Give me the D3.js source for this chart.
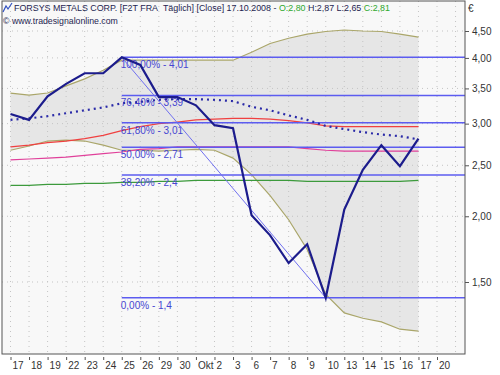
<!DOCTYPE html>
<html>
<head>
<meta charset="utf-8">
<script src="https://cdn.jsdelivr.net/npm/d3@7"></script>
<style>
  body { margin: 0; background: #fff; }
  text { font-family: "Liberation Sans", Arial, sans-serif; }
</style>
</head>
<body>
<div id="chart"></div>
<script>
// daily labels (Sept 17 .. Oct 20, 2008)
const days = ["17","18","19","22","23","24","25","26","29","30","Okt","2","3",
              "6","7","8","9","10","13","14","15","16","17","20"];

// close prices
const close = [3.13, 3.05, 3.38, 3.57, 3.74, 3.74, 4.01, 3.88, 3.37, 3.37, 3.25, 2.98,
               2.94, 2.01, 1.84, 1.63, 1.77, 1.40, 2.06, 2.45, 2.73, 2.49, 2.81];

// bollinger bands
const bandUpper = [3.43, 3.40, 3.43, 3.54, 3.65, 3.79, 3.96, 3.96, 3.96, 3.96, 3.96, 3.96,
                   3.96, 4.10, 4.26, 4.36, 4.44, 4.49, 4.52, 4.50, 4.49, 4.44, 4.38];
const bandMid   = [3.05, 3.07, 3.10, 3.14, 3.18, 3.22, 3.28, 3.30, 3.33, 3.34, 3.34, 3.33,
                   3.31, 3.23, 3.18, 3.11, 3.05, 2.97, 2.93, 2.89, 2.86, 2.84, 2.80];
const bandLower = [2.67, 2.72, 2.78, 2.79, 2.78, 2.73, 2.67, 2.67, 2.66, 2.67, 2.68, 2.67,
                   2.58, 2.40, 2.19, 1.97, 1.73, 1.42, 1.31, 1.28, 1.26, 1.22, 1.21];

// moving averages
const maRed   = [2.71, 2.73, 2.76, 2.78, 2.81, 2.85, 2.91, 2.96, 3.00, 3.02, 3.05, 3.06,
                 3.07, 3.07, 3.06, 3.04, 3.01, 2.97, 2.96, 2.96, 2.96, 2.96, 2.96];
const maPink  = [2.56, 2.57, 2.58, 2.59, 2.61, 2.63, 2.65, 2.68, 2.69, 2.71, 2.71, 2.71,
                 2.71, 2.71, 2.71, 2.71, 2.69, 2.67, 2.66, 2.66, 2.66, 2.66, 2.66];
const maGreen = [2.29, 2.29, 2.30, 2.30, 2.31, 2.31, 2.32, 2.32, 2.33, 2.33, 2.34, 2.34,
                 2.34, 2.34, 2.34, 2.34, 2.33, 2.33, 2.33, 2.33, 2.33, 2.33, 2.34];

// fibonacci retracement
const fibHigh = { i: 6, v: 4.01 };
const fibLow = { i: 17, v: 1.40 };
const fibLevels = [1, 0.764, 0.618, 0.5, 0.382, 0];
const fibLabels = ["100,00% - 4,01", "76,40% - 3,39", "61,80% - 3,01",
                   "50,00% - 2,71", "38,20% - 2,4", "0,00% - 1,4"];

const yTicks = [4.5, 4.0, 3.5, 3.0, 2.5, 2.0, 1.5];

const W = 500, H = 375;
const plot = { left: 2, top: 1, right: 465, bottom: 354 };

const svg = d3.select("#chart").append("svg")
    .attr("width", W).attr("height", H);

const x = d3.scaleLinear().domain([0, days.length - 1]).range([10.5, 437]);
const y = d3.scaleLog().domain([1.5, 4.5]).range([282, 31]);

// plot background
svg.append("rect")
    .attr("x", plot.left).attr("y", plot.top)
    .attr("width", plot.right - plot.left).attr("height", plot.bottom - plot.top)
    .attr("fill", "#f8f8f8");

const g = svg.append("g");

// band fill
g.append("path")
    .datum(d3.range(close.length))
    .attr("fill", "#e6e6e6")
    .attr("d", d3.area().x(i => x(i)).y0(i => y(bandLower[i])).y1(i => y(bandUpper[i])));

// grid
g.selectAll(".vg").data(d3.range(days.length + 1)).enter().append("line")
    .attr("x1", i => x(i)).attr("x2", i => x(i))
    .attr("y1", plot.top).attr("y2", plot.bottom)
    .attr("stroke", "#c4c4c4").attr("stroke-dasharray", "1,4");
g.selectAll(".hg").data(yTicks).enter().append("line")
    .attr("x1", plot.left).attr("x2", plot.right)
    .attr("y1", d => y(d)).attr("y2", d => y(d))
    .attr("stroke", "#c4c4c4").attr("stroke-dasharray", "1,4");

const line = arr => d3.line().x((d, i) => x(i)).y(d => y(d))(arr);

// bands
g.append("path").attr("d", line(bandUpper)).attr("fill", "none").attr("stroke", "#aaa66a").attr("stroke-width", 1.2);
g.append("path").attr("d", line(bandLower)).attr("fill", "none").attr("stroke", "#aaa66a").attr("stroke-width", 1.2);

// moving averages
g.append("path").attr("d", line(maGreen)).attr("fill", "none").attr("stroke", "#3c9a3c").attr("stroke-width", 1.2);
g.append("path").attr("d", line(maPink)).attr("fill", "none").attr("stroke", "#e0409a").attr("stroke-width", 1.2);
g.append("path").attr("d", line(maRed)).attr("fill", "none").attr("stroke", "#f04040").attr("stroke-width", 1.2);

// fibonacci lines and labels
const fibVal = l => fibLow.v + (fibHigh.v - fibLow.v) * l;
fibLevels.forEach((l, k) => {
  const yy = y(fibVal(l));
  g.append("line")
      .attr("x1", x(fibHigh.i)).attr("x2", plot.right)
      .attr("y1", yy).attr("y2", yy)
      .attr("stroke", "#5c5cf0").attr("stroke-width", 1.5);
  g.append("text")
      .attr("x", x(fibHigh.i) - 1).attr("y", yy + 11)
      .attr("font-size", 10).attr("fill", "#4646d2")
      .text(fibLabels[k]);
});

// trend line from high to low
g.append("line")
    .attr("x1", x(fibHigh.i)).attr("y1", y(fibHigh.v))
    .attr("x2", x(fibLow.i)).attr("y2", y(fibLow.v))
    .attr("stroke", "#7070f0").attr("stroke-width", 1);

// middle band dotted
g.append("path").attr("d", line(bandMid)).attr("fill", "none")
    .attr("stroke", "#2a2aa8").attr("stroke-width", 2.2).attr("stroke-dasharray", "2,4");

// close
g.append("path").attr("d", line(close)).attr("fill", "none")
    .attr("stroke", "#1c1c8c").attr("stroke-width", 2.2).attr("stroke-linejoin", "miter");

// frame
svg.append("rect")
    .attr("x", plot.left).attr("y", plot.top)
    .attr("width", plot.right - plot.left).attr("height", plot.bottom - plot.top)
    .attr("fill", "none").attr("stroke", "#555").attr("stroke-width", 1);

// right axis
const yAxis = svg.append("g")
    .attr("transform", `translate(${plot.right},0)`)
    .call(d3.axisRight(y).tickValues(yTicks).tickSize(4)
        .tickFormat(d => d3.format(".2f")(d).replace(".", ",")));
yAxis.select(".domain").remove();
yAxis.selectAll("text").attr("font-size", 10).attr("fill", "#333").attr("font-family", "Liberation Sans");
yAxis.selectAll("line").attr("stroke", "#555");

svg.append("text").attr("x", 468).attr("y", 12).attr("font-size", 10).attr("fill", "#333").text("€");

// bottom axis
const xAxis = svg.append("g")
    .attr("transform", `translate(0,${plot.bottom + 3})`)
    .call(d3.axisBottom(x).tickValues(d3.range(days.length)).tickSize(3)
        .tickFormat(i => days[i]));
xAxis.select(".domain").remove();
xAxis.selectAll("line").attr("stroke", "#555");
xAxis.selectAll("text")
    .attr("text-anchor", "start").attr("dx", 1.5).attr("y", 5)
    .attr("font-size", 10).attr("fill", "#333").attr("font-family", "Liberation Sans");

// title - shrink font to fit the reference width
function fitText(sel, width) {
  const len = sel.node().getComputedTextLength();
  const fs = +sel.attr("font-size");
  sel.attr("font-size", (fs * width / len).toFixed(2));
}
svg.append("path")
    .attr("d", "M3,12 L6,6 L8,9 L12,3")
    .attr("fill", "none").attr("stroke", "#3050c0").attr("stroke-width", 1.2);
const title = svg.append("text").attr("x", 14).attr("y", 11).attr("font-size", 10).attr("fill", "#1e1e50");
title.append("tspan").text("FORSYS METALS CORP. [F2T FRA\u00a0\u00a0Täglich] [Close] 17.10.2008 - ");
title.append("tspan").attr("fill", "#2ea82e").text("O:2,80");
title.append("tspan").text(" H:2,87 L:2,65 ");
title.append("tspan").attr("fill", "#2ea82e").text("C:2,81");
fitText(title, 376);
const credit = svg.append("text").attr("x", 3).attr("y", 24).attr("font-size", 10).attr("fill", "#1e1e50")
    .text("© www.tradesignalonline.com");
fitText(credit, 115);
</script>
</body>
</html>
